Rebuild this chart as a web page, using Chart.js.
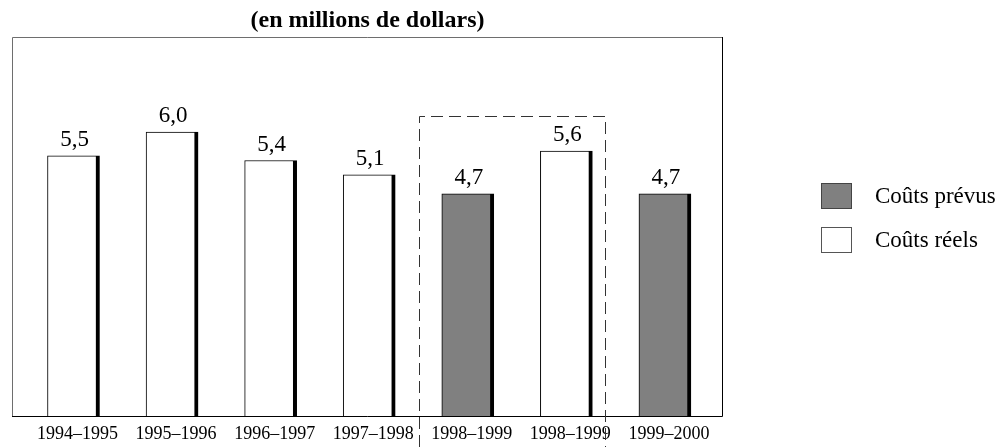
<!DOCTYPE html>
<html>
<head>
<meta charset="utf-8">
<script src="https://cdn.jsdelivr.net/npm/chart.js@4"></script>
<style>
    html, body { margin: 0; padding: 0; background: #fff; }
    #wrap { width: 999px; height: 447px; }
</style>
</head>
<body>
<div id="wrap"><canvas id="chart" width="999" height="447"></canvas></div>
<script>
// donnees du graphique
const categories = ["1994–1995", "1995–1996", "1996–1997", "1997–1998", "1998–1999", "1998–1999", "1999–2000"];
const coutsReels = [5.5, 6.0, 5.4, 5.1, null, 5.6, null];
const coutsPrevus = [null, null, null, null, 4.7, null, 4.7];
const seriesNames = ["Coûts prévus", "Coûts réels"];
const titre = "(en millions de dollars)";

const serif = "'Liberation Serif', 'Times New Roman', serif";

const toPoints = (arr) =>
    arr.map((v, i) => (v === null ? null : { x: i, y: v })).filter((p) => p);

// cadre, titre, etiquettes de valeurs, boite pointillee, legende
const decor = {
    id: "decor",
    afterDatasetsDraw(chart) {
        const { ctx, chartArea: a, scales } = chart;
        ctx.save();

        // cadre
        ctx.lineWidth = 1;
        ctx.strokeStyle = "#6e6e6e";
        ctx.beginPath();
        ctx.moveTo(a.left + 0.5, a.bottom);
        ctx.lineTo(a.left + 0.5, a.top + 0.5);
        ctx.lineTo(a.right, a.top + 0.5);
        ctx.stroke();
        ctx.strokeStyle = "#000";
        ctx.beginPath();
        ctx.moveTo(a.right - 0.5, a.top);
        ctx.lineTo(a.right - 0.5, a.bottom - 0.5);
        ctx.lineTo(a.left, a.bottom - 0.5);
        ctx.stroke();

        // titre
        ctx.fillStyle = "#000";
        ctx.font = "bold 24px " + serif;
        ctx.textAlign = "center";
        ctx.textBaseline = "middle";
        ctx.fillText(titre, (a.left + a.right) / 2, 21);

        // valeurs au-dessus des barres
        ctx.font = "23px " + serif;
        ctx.textBaseline = "alphabetic";
        chart.data.datasets.forEach((ds, di) => {
            chart.getDatasetMeta(di).data.forEach((bar, j) => {
                const v = ds.data[j].y;
                ctx.fillText(v.toFixed(1).replace(".", ","), bar.x + 1, bar.y - 10);
            });
        });

        // boite pointillee autour de 1998-1999
        const x1 = Math.round(scales.x.getPixelForValue(3.5)) + 0.5;
        const x2 = Math.round(scales.x.getPixelForValue(5.39)) + 0.5;
        const y1 = Math.round(scales.y.getPixelForValue(6.33)) + 0.5;
        ctx.strokeStyle = "#333";
        ctx.setLineDash([12, 6]);
        ctx.beginPath();
        ctx.moveTo(x1, chart.height);
        ctx.lineTo(x1, y1);
        ctx.lineTo(x2, y1);
        ctx.lineTo(x2, chart.height);
        ctx.stroke();
        ctx.setLineDash([]);

        // legende
        const fills = ["#808080", "#ffffff"];
        const borders = ["#444", "#555"];
        ctx.font = "23px " + serif;
        ctx.textAlign = "left";
        ctx.textBaseline = "middle";
        seriesNames.forEach((name, i) => {
            const y = 183 + i * 44;
            ctx.fillStyle = fills[i];
            ctx.fillRect(821, y, 31, 26);
            ctx.strokeStyle = borders[i];
            ctx.strokeRect(821.5, y + 0.5, 30, 25);
            ctx.fillStyle = "#000";
            ctx.fillText(name, 875, y + 14);
        });

        ctx.restore();
    },
};

const barStyle = {
    barThickness: 52,
    borderColor: "#000",
    borderWidth: { top: 1, left: 1, right: 4, bottom: 0 },
    borderSkipped: false,
};

new Chart(document.getElementById("chart"), {
    type: "bar",
    data: {
        datasets: [
            { label: seriesNames[0], data: toPoints(coutsPrevus), backgroundColor: "#808080", ...barStyle },
            { label: seriesNames[1], data: toPoints(coutsReels), backgroundColor: "#ffffff", ...barStyle },
        ],
    },
    options: {
        responsive: false,
        animation: false,
        events: [],
        layout: { padding: { left: 12, top: 37, right: 276, bottom: 0 } },
        plugins: { legend: { display: false }, tooltip: { enabled: false } },
        datasets: { bar: { grouped: false } },
        scales: {
            x: {
                type: "linear",
                offset: false,
                min: -0.624,
                max: 6.589,
                grid: { display: false },
                border: { display: false },
                afterBuildTicks: (scale) => {
                    scale.ticks = categories.map((_, i) => ({ value: i }));
                },
                afterFit: (scale) => {
                    scale.height = 30;
                },
                ticks: {
                    autoSkip: false,
                    maxRotation: 0,
                    padding: 0,
                    labelOffset: 4,
                    color: "#000",
                    font: { family: serif, size: 18, lineHeight: 1 },
                    callback: (v) => categories[v] ?? "",
                },
            },
            y: { display: false, min: 0, max: 8 },
        },
    },
    plugins: [decor],
});
</script>
</body>
</html>
